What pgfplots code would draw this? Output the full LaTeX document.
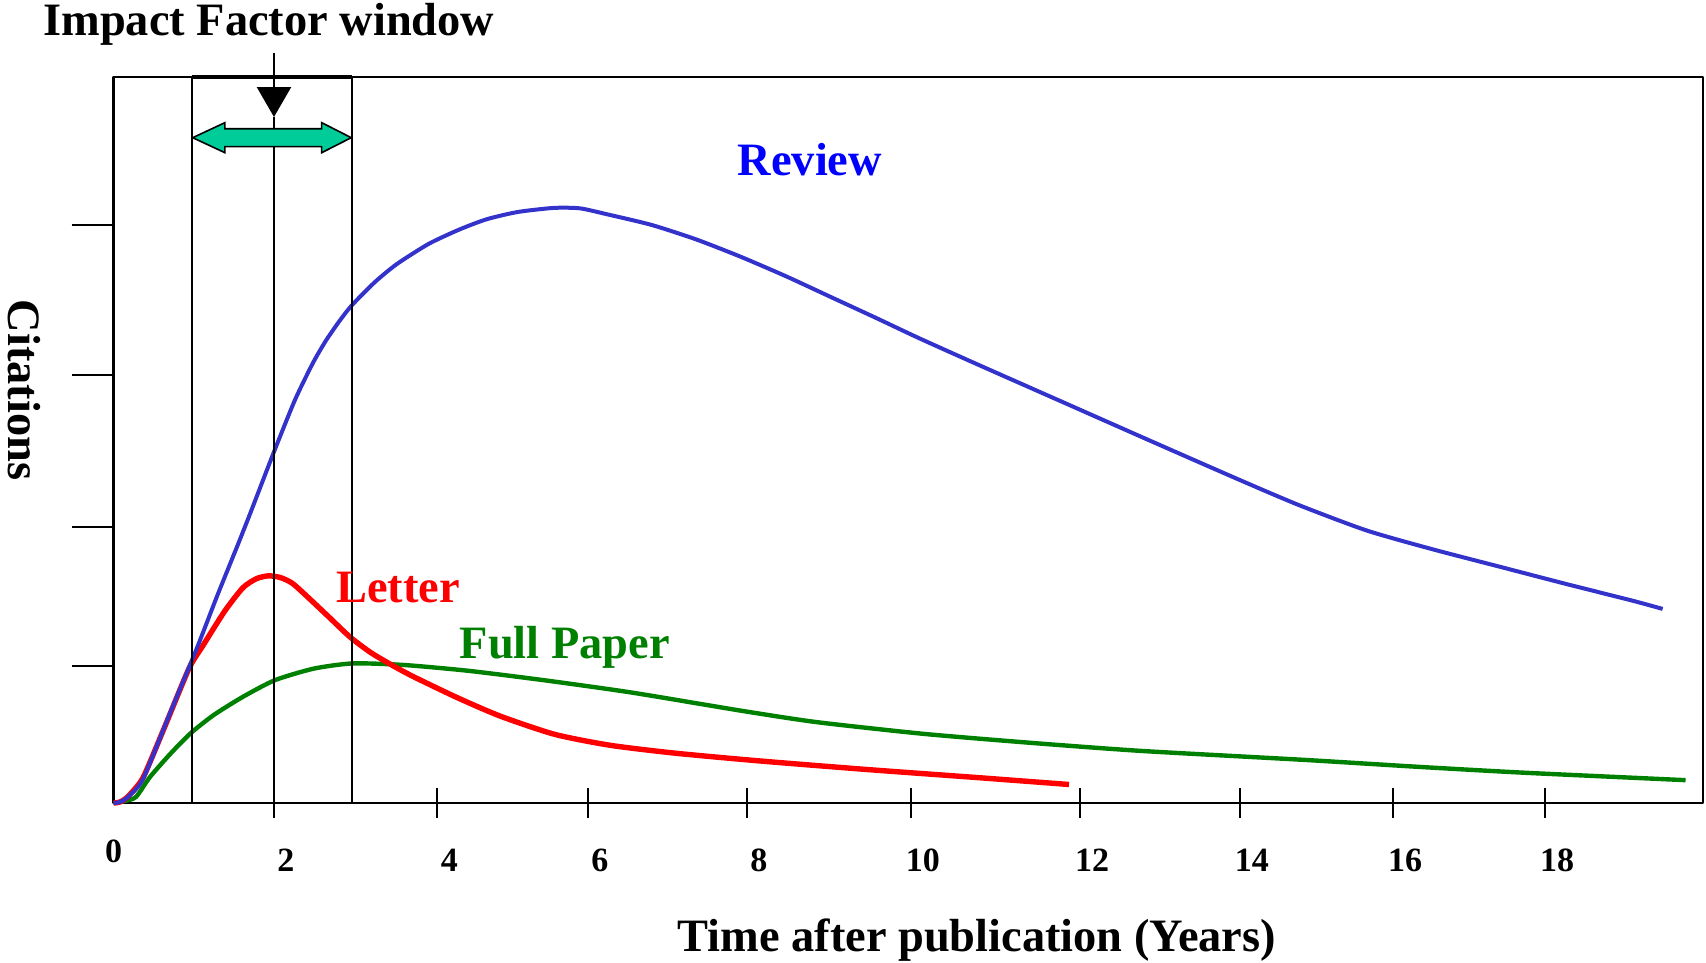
\documentclass[border=0pt]{standalone}
\usepackage{fontspec}
\setmainfont{Liberation Serif}
\usepackage{pgfplots}
\pgfplotsset{compat=1.18}
\usetikzlibrary{arrows.meta}
\definecolor{revblue}{RGB}{51,51,204}
\definecolor{revtext}{RGB}{0,0,255}
\definecolor{fpgreen}{RGB}{0,128,0}
\definecolor{letred}{RGB}{255,0,0}
\definecolor{ifteal}{RGB}{0,204,153}
\newcommand{\lab}{\fontsize{11.6}{14}\selectfont\bfseries}
\begin{document}
\begin{tikzpicture}
\useasboundingbox (-28.4pt,-40pt) rectangle (398.1pt,200.75pt);
\begin{axis}[
  at={(0,0)}, anchor=south west,
  scale only axis, width=397.4pt, height=181.5pt,
  xmin=0, xmax=20, ymin=0, ymax=5.024,
  axis line style={line width=0.6pt},
  xtick={2.018,4.074,5.967,7.967,10.03,12.16,14.17,16.10,18.01},
  xticklabels={2,4,6,8,10,12,14,16,18},
  xtick pos=bottom, xtick align=center,
  ytick pos=left, ytick align=outside,
  major tick length=7.5pt,
  tick style={black, line width=0.5pt},
  extra x ticks={0}, extra x tick labels={0},
  extra x tick style={major tick length=0pt, xticklabel style={xshift=-3pt, yshift=-1.55pt}},
  xticklabel style={font=\fontsize{8.5}{10}\selectfont\bfseries, yshift=-4.25pt, xshift=3pt},
  ytick=\empty,
  extra y ticks={0.948,1.910,2.962,4.0}, extra y tick labels={},
  extra y tick style={major tick length=10.5pt},
  clip=false,
  line join=round,
]
\addplot[color=fpgreen, line width=1.1pt, smooth, tension=0.4] coordinates {
(0,0) (0.143,0.014) (0.282,0.042) (0.458,0.180) (0.722,0.345) (0.974,0.485)
(1.263,0.61) (1.628,0.735) (2.030,0.85) (2.52,0.93) (3.011,0.966) (3.653,0.955)
(4.46,0.915) (5.41,0.85) (6.51,0.765) (7.88,0.64) (8.84,0.56) (10.2,0.478)
(11.57,0.415) (12.94,0.36) (14.99,0.298) (16.36,0.252) (17.73,0.21) (19.778,0.158)
};
\addplot[color=letred, line width=1.35pt, smooth, tension=0.4] coordinates {
(0,0) (0.081,0.007) (0.181,0.045) (0.370,0.175) (0.634,0.515) (0.948,0.93)
(1.125,1.09) (1.401,1.33) (1.628,1.49) (1.80,1.553) (1.95,1.572) (2.10,1.56)
(2.25,1.52) (2.433,1.43) (2.709,1.287) (2.974,1.149) (3.238,1.04) (3.515,0.95)
(3.77,0.875) (4.32,0.73) (4.87,0.60) (5.55,0.475) (6.24,0.40) (7.06,0.345)
(8.15,0.29) (9.52,0.23) (10.89,0.175) (12.02,0.128)
};
\addplot[color=revblue, line width=1pt, smooth, tension=0.4] coordinates {
(0,0) (0.081,0.007) (0.181,0.042) (0.370,0.166) (0.709,0.62) (1.049,1.073)
(1.301,1.43) (1.552,1.772) (1.716,2.0) (2.018,2.43) (2.282,2.789) (2.508,3.045)
(2.672,3.20) (2.848,3.34) (2.999,3.445) (3.288,3.605) (3.565,3.73) (3.967,3.87)
(4.357,3.97) (4.697,4.04) (5.087,4.09) (5.540,4.118) (5.867,4.115) (6.2,4.075)
(6.77,4.0) (7.33,3.9) (7.89,3.78) (8.46,3.645) (9.01,3.505) (9.58,3.36)
(10.14,3.215) (10.89,3.03) (11.98,2.765) (13.07,2.5) (14.17,2.235) (14.92,2.06)
(15.77,1.885) (16.6,1.755) (17.44,1.635) (18.28,1.515) (19.11,1.40) (19.49,1.343)
};
% impact factor window
\draw[line width=0.5pt] (axis cs:0.982,0) -- (axis cs:0.982,5.024);
\draw[line width=0.5pt] (axis cs:3.0,0) -- (axis cs:3.0,5.024);
\draw[line width=1pt] (axis cs:0.982,5.024) -- (axis cs:3.0,5.024);
\draw[line width=0.5pt] (axis cs:2.018,0) -- (axis cs:2.018,4.747);
\draw[line width=0.6pt, -{Triangle[width=8.5pt,length=7.5pt]}] (axis cs:2.018,5.192) -- (axis cs:2.018,4.747);
\filldraw[fill=ifteal, draw=black, line width=0.4pt, line join=miter]
 (axis cs:0.995,4.604) -- (axis cs:1.401,4.708) -- (axis cs:1.401,4.666) -- (axis cs:2.618,4.666)
 -- (axis cs:2.618,4.708) -- (axis cs:2.99,4.604) -- (axis cs:2.618,4.500) -- (axis cs:2.618,4.542)
 -- (axis cs:1.401,4.542) -- (axis cs:1.401,4.500) -- cycle;
% labels
\node[anchor=base, font=\lab] at (axis cs:1.955,5.308) {Impact Factor window};
\node[anchor=base, font=\lab, text=revtext] at (axis cs:8.761,4.339) {Review};
\node[anchor=base, font=\lab, text=letred] at (axis cs:3.577,1.384) {Letter};
\node[anchor=base, font=\lab, text=fpgreen] at (axis cs:5.678,0.997) {Full Paper};
\node[anchor=base, font=\lab] at (axis cs:10.86,-1.031) {Time after publication (Years)};
\node[rotate=-90, anchor=base, font=\lab] at (axis cs:-1.322,2.858) {Citations};
\end{axis}
\end{tikzpicture}
\end{document}
